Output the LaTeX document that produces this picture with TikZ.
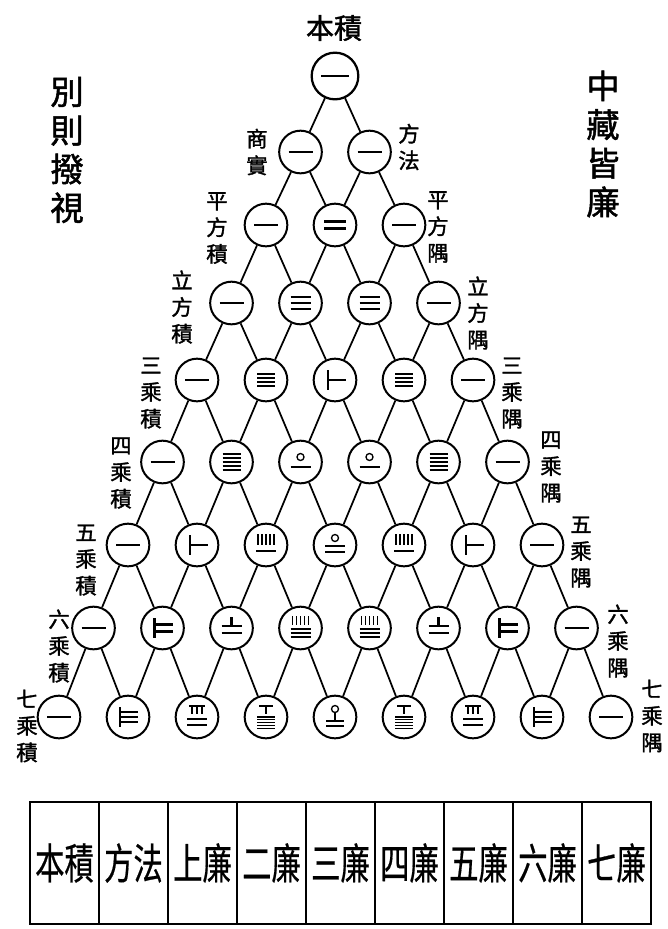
\documentclass[tikz,border=0pt]{standalone}
\usepackage{fontspec}
\usepackage{graphicx}
\newfontfamily\cjk[FakeBold=1.5]{Noto Sans CJK TC}
\newfontfamily\cjkl[FakeBold=0.6]{Noto Sans CJK TC}
\tikzset{
  rc/.style={circle, draw, line width=1.5pt, minimum size=32pt, inner sep=0pt},
  topc/.style={rc, line width=1.7pt, minimum size=35pt},
  conn/.style={line width=1.3pt},
  rod/.style={line width=1.7pt},
  rodt/.style={line width=1.0pt},
  rodx/.style={line width=0.8pt},
  slab/.style={font=\cjk\fontsize{16}{20}\selectfont, align=center, inner sep=0pt},
  ttl/.style={font=\cjk\fontsize{25}{29}\selectfont, align=center, inner sep=0pt},
  toplab/.style={font=\cjk\fontsize{21}{21}\selectfont, inner sep=0pt},
  cellbox/.style={draw, line width=1.6pt, minimum width=51.75pt, minimum height=92pt, inner sep=0pt,
    font=\cjkl\fontsize{22}{22}\selectfont}
}
\newcommand\rodH[3]{\draw[rod] (#2,#1) -- (#3,#1);}
\newcommand\rodh[3]{\draw[rodt] (#2,#1) -- (#3,#1);}
\newcommand\rodx[3]{\draw[rodx] (#2,#1) -- (#3,#1);}
\newcommand\rodV[3]{\draw[rod] (#1,#2) -- (#1,#3);}
\newcommand\rodv[3]{\draw[rodt] (#1,#2) -- (#1,#3);}
\expandafter\def\csname rn1\endcsname{\rodH{0}{-12}{12}}
\expandafter\def\csname rn2\endcsname{\rodH{-3.5}{-11}{11}\rodH{3.5}{-11}{11}}
\expandafter\def\csname rn3\endcsname{\rodH{-6}{-10}{10}\rodH{0}{-10}{10}\rodH{6}{-10}{10}}
\expandafter\def\csname rn4\endcsname{\rodh{-6}{-9}{9}\rodh{-2}{-9}{9}\rodh{2}{-9}{9}\rodh{6}{-9}{9}}
\expandafter\def\csname rn5\endcsname{\rodh{-8}{-9}{9}\rodh{-4}{-9}{9}\rodh{0}{-9}{9}\rodh{4}{-9}{9}\rodh{8}{-9}{9}}
\expandafter\def\csname rn6\endcsname{\rodV{-7}{-10}{10}\rodH{0}{-7}{11}}
\expandafter\def\csname rn7\endcsname{\rodV{-8}{-10}{10}\rodH{-3.5}{-8}{10}\rodH{3.5}{-8}{10}}
\expandafter\def\csname rn8\endcsname{\rodV{-8}{-10}{10}\rodh{-5}{-8}{10}\rodh{0}{-8}{10}\rodh{5}{-8}{10}}
\expandafter\def\csname rn10\endcsname{\draw[rodt] (0,-5) circle[radius=3.5];\rodH{5}{-10}{10}}
\expandafter\def\csname rn15\endcsname{\rodv{-8}{-11}{0}\rodv{-4}{-11}{0}\rodv{0}{-11}{0}\rodv{4}{-11}{0}\rodv{8}{-11}{0}\rodH{6}{-10}{10}}
\expandafter\def\csname rn20\endcsname{\draw[rodt] (0,-7) circle[radius=3.5];\rodH{1}{-10}{10}\rodH{7}{-10}{10}}
\expandafter\def\csname rn21\endcsname{\rodV{0}{-11}{-2}\rodH{-2}{-10}{10}\rodH{5}{-10}{10}}
\expandafter\def\csname rn35\endcsname{\rodv{-8}{-12}{-3}\rodv{-4}{-12}{-3}\rodv{0}{-12}{-3}\rodv{4}{-12}{-3}\rodv{8}{-12}{-3}\rodh{1}{-10}{10}\rodh{5}{-10}{10}\rodh{9}{-10}{10}}
\expandafter\def\csname rn28\endcsname{\rodh{-11}{-8}{8}\rodv{-5}{-11}{-3}\rodv{0}{-11}{-3}\rodv{5}{-11}{-3}\rodH{2}{-10}{10}\rodH{8}{-10}{10}}
\expandafter\def\csname rn56\endcsname{\rodh{-11}{-7}{7}\rodv{0}{-11}{-3}\rodx{0}{-9}{9}\rodx{2.8}{-9}{9}\rodx{5.6}{-9}{9}\rodx{8.4}{-9}{9}\rodx{11.2}{-9}{9}}
\expandafter\def\csname rn70\endcsname{\draw[rodt] (0,-8) circle[radius=3.5];\rodV{0}{-4}{4}\rodH{4}{-9}{9}\rodH{9}{-9}{9}}
\begin{document}
\begin{tikzpicture}[x=0.75pt,y=-0.75pt]
\useasboundingbox (0,0) rectangle (668,929);
% circles
\node[topc] (c0-0) at (335,76) {};
\foreach \i/\y in {1/152,2/225,3/303,4/380,5/462,6/545,7/628,8/717}{
  \foreach \j in {0,...,\i}{
    \node[rc] (c\i-\j) at ({335+(2*\j-\i)*34.5},\y) {};
  }
}
% connectors
\foreach \i in {0,...,7}{
  \pgfmathtruncatemacro\ni{\i+1}
  \foreach \j in {0,...,\i}{
    \pgfmathtruncatemacro\nj{\j+1}
    \draw[conn] (c\i-\j) -- (c\ni-\j);
    \draw[conn] (c\i-\j) -- (c\ni-\nj);
  }
}
% numbers
\begin{scope}[shift={(c0-0.center)}]\rodH{0}{-14}{14}\end{scope}
\foreach \i/\j/\v in {1/0/1,1/1/1,
  2/0/1,2/1/2,2/2/1,
  3/0/1,3/1/3,3/2/3,3/3/1,
  4/0/1,4/1/4,4/2/6,4/3/4,4/4/1,
  5/0/1,5/1/5,5/2/10,5/3/10,5/4/5,5/5/1,
  6/0/1,6/1/6,6/2/15,6/3/20,6/4/15,6/5/6,6/6/1,
  7/0/1,7/1/7,7/2/21,7/3/35,7/4/35,7/5/21,7/6/7,7/7/1,
  8/0/1,8/1/8,8/2/28,8/3/56,8/4/70,8/5/56,8/6/28,8/7/8,8/8/1}{
  \begin{scope}[shift={(c\i-\j.center)}]\csname rn\v\endcsname\end{scope}
}
% top label and titles
\node[toplab] (top) at (334,28) {本積};
\node[ttl] (tl) at (67,150) {別\\則\\撥\\視};
\node[ttl] (tr) at (603,144) {中\\藏\\皆\\廉};
% side labels
\node[slab] (L1) at (257,152) {商\\實};
\node[slab] (L2) at (217,228) {平\\方\\積};
\node[slab] (L3) at (182,307) {立\\方\\積};
\node[slab] (L4) at (151,393) {三\\乘\\積};
\node[slab] (L5) at (121,473) {四\\乘\\積};
\node[slab] (L6) at (86,560) {五\\乘\\積};
\node[slab] (L7) at (59,646) {六\\乘\\積};
\node[slab] (L8) at (27,726) {七\\乘\\積};
\node[slab] (R1) at (409,147) {方\\法};
\node[slab] (R2) at (438,227) {平\\方\\隅};
\node[slab] (R3) at (478,313) {立\\方\\隅};
\node[slab] (R4) at (512,393) {三\\乘\\隅};
\node[slab] (R5) at (551,467) {四\\乘\\隅};
\node[slab] (R6) at (581,552) {五\\乘\\隅};
\node[slab] (R7) at (618,641) {六\\乘\\隅};
\node[slab] (R8) at (652,716) {七\\乘\\隅};
% table
\foreach \k/\t in {0/本積,1/方法,2/上廉,3/二廉,4/三廉,5/四廉,6/五廉,7/六廉,8/七廉}{
  \node[cellbox] (t\k) at ({64.5+69*\k},863) {\scalebox{1}[1.45]{\t}};
}
\end{tikzpicture}
\end{document}
